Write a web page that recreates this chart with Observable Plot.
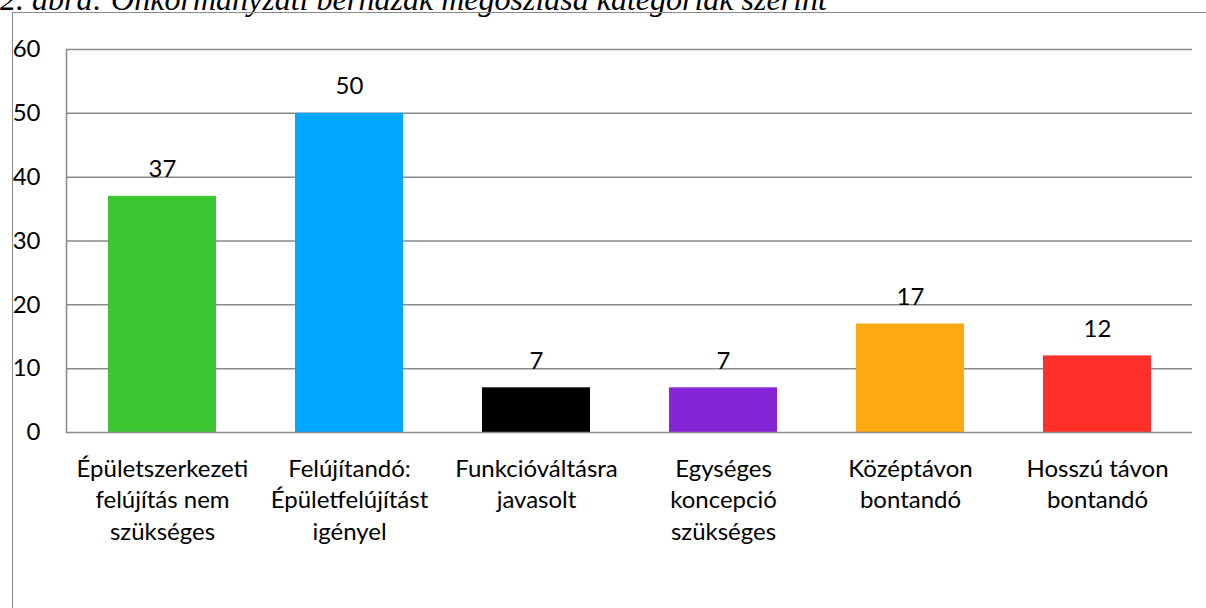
<!DOCTYPE html>
<html>
<head>
<meta charset="utf-8">
<script src="https://cdn.jsdelivr.net/npm/d3@7"></script>
<script src="https://cdn.jsdelivr.net/npm/@observablehq/plot@0.6"></script>
<style>
  html, body { margin: 0; padding: 0; background: #fff; overflow: hidden; }
  #wrap { position: relative; width: 1206px; height: 608px; overflow: hidden; }
  #title {
    position: absolute; left: 0; top: -17px; white-space: nowrap;
    font-family: "Liberation Serif", "Times New Roman", serif; font-style: italic;
    font-size: 32px; line-height: 32px; color: #000;
  }
  #border {
    position: absolute; left: 12px; top: 12px; width: 1300px; height: 700px;
    border-left: 1.5px solid #8a8a8a; border-top: 1.5px solid #8a8a8a;
  }
  #chart { position: absolute; left: 0; top: 0; }
</style>
</head>
<body>
<div id="wrap">
  <div id="title">2. ábra: Önkormányzati bérházak megoszlása kategóriák szerint</div>
  <div id="border"></div>
  <div id="chart"></div>
</div>
<script>
const categories = [
  "Épületszerkezeti felújítás nem szükséges",
  "Felújítandó: Épületfelújítást igényel",
  "Funkcióváltásra javasolt",
  "Egységes koncepció szükséges",
  "Középtávon bontandó",
  "Hosszú távon bontandó"
];
const tickLabels = [
  "Épületszerkezeti\nfelújítás nem\nszükséges",
  "Felújítandó:\nÉpületfelújítást\nigényel",
  "Funkcióváltásra\njavasolt",
  "Egységes\nkoncepció\nszükséges",
  "Középtávon\nbontandó",
  "Hosszú távon\nbontandó"
];
const values = [37, 50, 7, 7, 17, 12];
const colors = ["#3dc634", "#00a6ff", "#000000", "#8526d6", "#ffa914", "#ff2f2a"];
const yTicks = [0, 10, 20, 30, 40, 50, 60];

const data = categories.map((c, i) => ({category: c, value: values[i], color: colors[i]}));
const labelOf = new Map(categories.map((c, i) => [c, tickLabels[i]]));

const font = "Lato, Calibri, 'Liberation Sans', sans-serif";

const chart = Plot.plot({
  width: 1206,
  height: 608,
  marginLeft: 66,
  marginRight: 14,
  marginTop: 49,
  marginBottom: 176,
  style: {fontFamily: font, fontSize: "24px", color: "#000", background: "transparent", overflow: "visible"},
  x: {domain: categories, paddingInner: 0.424, paddingOuter: 0.212},
  y: {domain: [0, 60]},
  marks: [
    Plot.ruleY(yTicks.filter(d => d > 0), {stroke: "#8a8a8a", strokeWidth: 1.5, strokeOpacity: 1}),
    Plot.barY(data, {x: "category", y: "value", fill: "color"}),
    Plot.ruleY([0], {stroke: "#8a8a8a", strokeWidth: 1.5, strokeOpacity: 1}),
    Plot.frame({anchor: "left", stroke: "#8a8a8a", strokeWidth: 1.5}),
    Plot.text(data, {x: "category", y: "value", text: d => String(d.value), lineAnchor: "bottom", dy: -19, fontSize: 24, fill: "#000"}),
    Plot.axisY({ticks: yTicks, tickSize: 0, tickPadding: 26, fontSize: 24, label: null, fill: "#000"}),
    Plot.axisX({tickSize: 0, tickPadding: 22, fontSize: 24, lineHeight: 1.31, label: null, tickFormat: d => labelOf.get(d), fill: "#000"})
  ]
});
document.getElementById("chart").appendChild(chart);
</script>
</body>
</html>
